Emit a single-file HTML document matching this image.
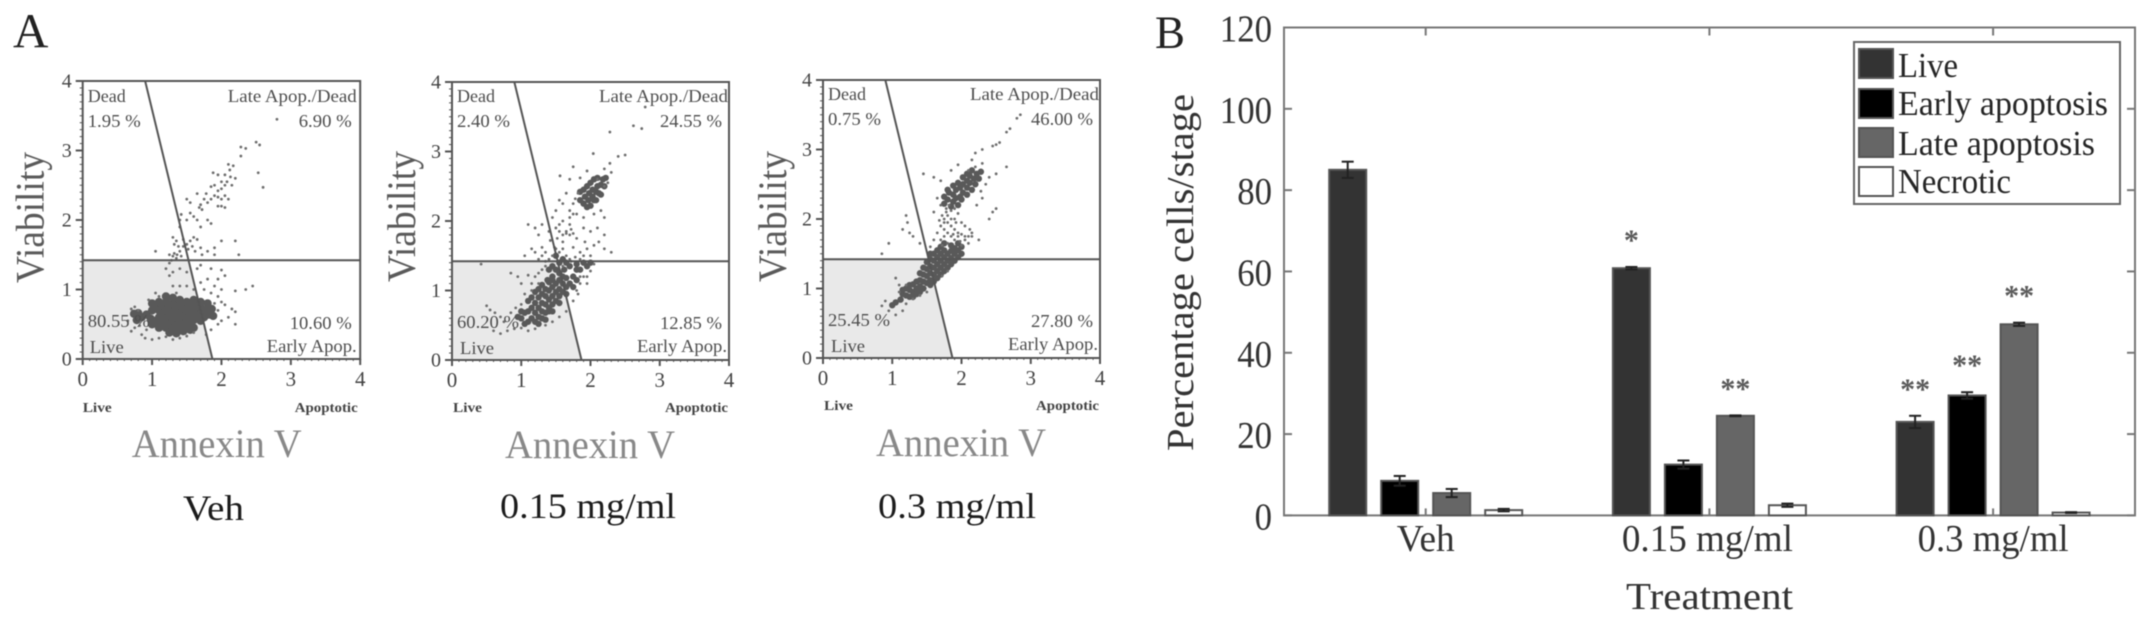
<!DOCTYPE html>
<html lang="en">
<head>
<meta charset="utf-8">
<title>Annexin V apoptosis analysis</title>
<style>
  html, body { margin: 0; padding: 0; background: #fff; }
  body { width: 2150px; height: 626px; overflow: hidden; }
  #figure { display: block; filter: blur(0.6px); }
  text { font-family: "Liberation Serif", serif; }
  .q { font-size: 18px; fill: #4d4d4d; }
  .via { font-size: 40px; fill: #5a5a5a; }
  .ann { font-size: 40px; fill: #888; }
  .sm { font-size: 14px; font-weight: bold; fill: #444; }
  .cond { font-size: 36px; fill: #1c1c1c; }
  .big { font-size: 38px; fill: #333; }
  .leg { font-size: 35px; fill: #262626; }
</style>
</head>
<body>
<svg id="figure" xmlns="http://www.w3.org/2000/svg" width="2150" height="626" viewBox="0 0 2150 626">
  <rect width="2150" height="626" fill="#fff"/>
  <text x="13" y="47" font-size="49" fill="#222">A</text>
  <text x="1155" y="48" font-size="47" fill="#222" textLength="30" lengthAdjust="spacingAndGlyphs">B</text>

  <g id="flow-veh" transform="translate(82.7,81)">
    <g class="marks"></g>
    <text class="q" x="5" y="21" textLength="38" lengthAdjust="spacingAndGlyphs">Dead</text>
    <text class="q" x="5" y="46" textLength="53" lengthAdjust="spacingAndGlyphs">1.95 %</text>
    <text class="q" x="274" y="21" text-anchor="end" textLength="129" lengthAdjust="spacingAndGlyphs">Late Apop./Dead</text>
    <text class="q" x="269" y="46" text-anchor="end" textLength="53" lengthAdjust="spacingAndGlyphs">6.90 %</text>
    <text class="q" x="5" y="246" textLength="62" lengthAdjust="spacingAndGlyphs">80.55 %</text>
    <text class="q" x="7" y="272" textLength="34" lengthAdjust="spacingAndGlyphs">Live</text>
    <text class="q" x="269" y="248" text-anchor="end" textLength="62" lengthAdjust="spacingAndGlyphs">10.60 %</text>
    <text class="q" x="274" y="271" text-anchor="end" textLength="90" lengthAdjust="spacingAndGlyphs">Early Apop.</text>
    <text class="sm" x="0" y="331" textLength="29" lengthAdjust="spacingAndGlyphs">Live</text>
    <text class="sm" x="275" y="331" text-anchor="end" textLength="63" lengthAdjust="spacingAndGlyphs">Apoptotic</text>
    <text class="via" transform="translate(-39,202) rotate(-90)" textLength="131" lengthAdjust="spacingAndGlyphs">Viability</text>
    <text class="ann" x="49" y="376" textLength="170" lengthAdjust="spacingAndGlyphs">Annexin V</text>
  </g>

  <g id="flow-mid" transform="translate(452,82)">
    <g class="marks"></g>
    <text class="q" x="5" y="20" textLength="38" lengthAdjust="spacingAndGlyphs">Dead</text>
    <text class="q" x="5" y="45" textLength="53" lengthAdjust="spacingAndGlyphs">2.40 %</text>
    <text class="q" x="276" y="20" text-anchor="end" textLength="129" lengthAdjust="spacingAndGlyphs">Late Apop./Dead</text>
    <text class="q" x="270" y="45" text-anchor="end" textLength="62" lengthAdjust="spacingAndGlyphs">24.55 %</text>
    <text class="q" x="5" y="246" textLength="62" lengthAdjust="spacingAndGlyphs">60.20 %</text>
    <text class="q" x="8" y="272" textLength="34" lengthAdjust="spacingAndGlyphs">Live</text>
    <text class="q" x="270" y="247" text-anchor="end" textLength="62" lengthAdjust="spacingAndGlyphs">12.85 %</text>
    <text class="q" x="275" y="270" text-anchor="end" textLength="90" lengthAdjust="spacingAndGlyphs">Early Apop.</text>
    <text class="sm" x="1" y="330" textLength="29" lengthAdjust="spacingAndGlyphs">Live</text>
    <text class="sm" x="276" y="330" text-anchor="end" textLength="63" lengthAdjust="spacingAndGlyphs">Apoptotic</text>
    <text class="via" transform="translate(-37,200) rotate(-90)" textLength="131" lengthAdjust="spacingAndGlyphs">Viability</text>
    <text class="ann" x="53" y="376" textLength="170" lengthAdjust="spacingAndGlyphs">Annexin V</text>
  </g>

  <g id="flow-high" transform="translate(823,80)">
    <g class="marks"></g>
    <text class="q" x="5" y="20" textLength="38" lengthAdjust="spacingAndGlyphs">Dead</text>
    <text class="q" x="5" y="45" textLength="53" lengthAdjust="spacingAndGlyphs">0.75 %</text>
    <text class="q" x="276" y="20" text-anchor="end" textLength="129" lengthAdjust="spacingAndGlyphs">Late Apop./Dead</text>
    <text class="q" x="270" y="45" text-anchor="end" textLength="62" lengthAdjust="spacingAndGlyphs">46.00 %</text>
    <text class="q" x="5" y="246" textLength="62" lengthAdjust="spacingAndGlyphs">25.45 %</text>
    <text class="q" x="8" y="272" textLength="34" lengthAdjust="spacingAndGlyphs">Live</text>
    <text class="q" x="270" y="247" text-anchor="end" textLength="62" lengthAdjust="spacingAndGlyphs">27.80 %</text>
    <text class="q" x="275" y="270" text-anchor="end" textLength="90" lengthAdjust="spacingAndGlyphs">Early Apop.</text>
    <text class="sm" x="1" y="330" textLength="29" lengthAdjust="spacingAndGlyphs">Live</text>
    <text class="sm" x="276" y="330" text-anchor="end" textLength="63" lengthAdjust="spacingAndGlyphs">Apoptotic</text>
    <text class="via" transform="translate(-37,202) rotate(-90)" textLength="131" lengthAdjust="spacingAndGlyphs">Viability</text>
    <text class="ann" x="53" y="376" textLength="170" lengthAdjust="spacingAndGlyphs">Annexin V</text>
  </g>

  <text class="cond" x="183" y="520" textLength="61" lengthAdjust="spacingAndGlyphs">Veh</text>
  <text class="cond" x="500" y="518" textLength="176" lengthAdjust="spacingAndGlyphs">0.15 mg/ml</text>
  <text class="cond" x="878" y="518" textLength="158" lengthAdjust="spacingAndGlyphs">0.3 mg/ml</text>

  <g id="bar-chart"></g>
  <text class="big" font-size="40" transform="translate(1193,451) rotate(-90)" textLength="357" lengthAdjust="spacingAndGlyphs">Percentage cells/stage</text>
  <text class="big" x="1626" y="609" textLength="167" lengthAdjust="spacingAndGlyphs">Treatment</text>

  <g>
    <rect x="1854" y="42" width="266" height="162" fill="#fff" stroke="#666" stroke-width="2"/>
    <rect x="1859" y="49" width="34" height="29" fill="#333" stroke="#555" stroke-width="2"/>
    <text class="leg" x="1898" y="77" textLength="60" lengthAdjust="spacingAndGlyphs">Live</text>
    <rect x="1859" y="89" width="34" height="29" fill="#000" stroke="#555" stroke-width="2"/>
    <text class="leg" x="1898" y="115" textLength="210" lengthAdjust="spacingAndGlyphs">Early apoptosis</text>
    <rect x="1859" y="128" width="34" height="29" fill="#666" stroke="#555" stroke-width="2"/>
    <text class="leg" x="1898" y="155" textLength="197" lengthAdjust="spacingAndGlyphs">Late apoptosis</text>
    <rect x="1859" y="167" width="34" height="29" fill="#fff" stroke="#555" stroke-width="2"/>
    <text class="leg" x="1898" y="193" textLength="113" lengthAdjust="spacingAndGlyphs">Necrotic</text>
  </g>
</svg>

<script>
/* ---------- flow cytometry data: [Annexin V, Viability] in log units ---------- */
const flowTicks = [0, 1, 2, 3, 4];
const gateViability = 1.42;
const gateAnnexinTop = 0.9;
const gateAnnexinBottom = 1.87;

const vehSparse = [[2.8,3.45],[2.5,3.12],[2.55,3.08],[2.28,3.05],[2.35,3.03],[2.28,2.92],[2.1,2.8],[2.17,2.78],[2.12,2.72],[2.53,2.68],[2.6,2.47],[1.88,2.68],[1.95,2.65],[2.05,2.65],[2.13,2.62],[2.2,2.6],[2.0,2.55],[2.08,2.55],[2.15,2.5],[1.85,2.48],[1.9,2.5],[1.95,2.42],[2.0,2.45],[2.05,2.5],[1.78,2.38],[1.65,2.38],[1.9,2.35],[1.95,2.33],[2.0,2.3],[2.05,2.35],[2.1,2.3],[1.85,2.3],[1.75,2.3],[1.7,2.22],[1.68,2.18],[1.72,2.15],[1.8,2.25],[1.95,2.2],[2.0,2.2],[2.05,2.18],[1.5,2.3],[1.55,2.25],[1.42,2.08],[1.55,2.1],[1.6,2.05],[1.65,2.0],[1.5,2.0],[1.4,2.0],[1.4,1.9],[1.8,2.0],[1.85,1.95],[1.7,1.9],[1.3,1.75],[1.32,1.65],[1.35,1.7],[1.38,1.62],[1.45,1.72],[1.5,1.65],[1.52,1.58],[1.55,1.7],[1.6,1.75],[1.65,1.72],[1.7,1.6],[1.8,1.55],[1.9,1.6],[1.9,1.5],[2.0,1.7],[2.2,1.7],[2.25,1.5],[1.25,1.5],[1.28,1.42],[1.3,1.48],[1.35,1.45],[1.25,1.38],[1.4,1.55],[1.05,1.55],[1.32,1.52],[1.36,1.5],[1.42,1.48],[1.45,1.62],[1.58,1.62],[1.62,1.55],[1.72,1.5],[1.2,1.3],[1.25,1.2],[1.3,1.25],[1.4,1.3],[1.5,1.25],[1.65,1.3],[1.7,1.35],[1.85,1.3],[2.0,1.28],[1.95,1.15],[2.05,1.2],[1.8,1.15],[1.7,1.1],[1.9,1.05],[2.0,1.0],[2.2,0.98],[2.35,1.0],[2.45,1.05],[1.3,1.05],[1.4,1.05],[1.5,1.05],[1.6,1.0],[1.75,1.0],[1.85,0.95],[1.95,0.9],[1.35,0.95],[1.1,0.9],[0.95,0.85],[1.05,0.95],[1.9,0.8],[2.05,0.78],[2.15,0.72],[2.2,0.68],[2.1,0.6],[2.0,0.55],[1.95,0.5],[2.2,0.5],[0.75,0.75],[0.7,0.72],[0.65,0.55],[0.7,0.4],[0.75,0.45],[0.85,0.35],[0.9,0.3],[1.0,0.28],[1.1,0.3],[1.2,0.32],[1.3,0.28],[1.4,0.3],[1.5,0.33],[1.6,0.38],[0.8,0.7],[0.82,0.48],[0.92,0.42],[1.85,0.42],[1.78,0.35],[1.95,0.7],[2.0,0.82]];
const vehDense = [[0.92,0.64],[0.98,0.58],[1.0,0.7],[1.05,0.55],[1.05,0.75],[1.1,0.6],[1.1,0.7],[1.15,0.5],[1.15,0.65],[1.15,0.78],[1.2,0.45],[1.2,0.58],[1.2,0.7],[1.2,0.82],[1.25,0.5],[1.25,0.62],[1.25,0.74],[1.3,0.42],[1.3,0.55],[1.3,0.67],[1.3,0.8],[1.35,0.48],[1.35,0.6],[1.35,0.72],[1.4,0.44],[1.4,0.55],[1.4,0.65],[1.4,0.78],[1.45,0.5],[1.45,0.62],[1.45,0.72],[1.5,0.48],[1.5,0.58],[1.5,0.7],[1.55,0.52],[1.55,0.64],[1.55,0.74],[1.6,0.56],[1.6,0.66],[1.6,0.78],[1.65,0.6],[1.65,0.7],[1.7,0.65],[1.7,0.74],[1.76,0.7],[0.85,0.6],[0.8,0.66],[1.0,0.5],[1.1,0.45],[1.1,0.82],[1.25,0.38],[1.35,0.37],[1.45,0.4],[1.55,0.42],[1.6,0.45],[1.7,0.55],[1.75,0.6],[1.82,0.64],[1.4,0.85],[1.3,0.88],[1.5,0.82],[1.6,0.85],[1.2,0.9],[1.7,0.82],[1.0,0.8],[0.74,0.65],[0.78,0.56],[1.86,0.72],[1.88,0.62],[1.8,0.8]];

const midSparse = [[2.28,3.28],[2.62,3.37],[2.74,3.33],[2.79,3.64],[2.5,2.95],[2.4,2.93],[2.04,2.97],[2.28,2.83],[1.75,2.78],[1.56,2.65],[1.7,2.6],[2.2,2.75],[2.3,2.7],[1.95,2.72],[1.85,2.62],[2.25,2.55],[1.65,2.4],[1.55,2.3],[1.6,2.25],[1.75,2.25],[1.7,2.15],[1.8,2.1],[1.9,2.05],[2.05,2.1],[2.15,2.15],[2.2,2.05],[1.5,2.15],[1.45,2.05],[1.6,2.0],[1.7,1.95],[1.9,1.9],[2.0,1.85],[2.1,1.9],[2.2,1.8],[1.1,1.95],[1.2,1.9],[1.25,1.8],[1.3,1.95],[1.4,1.85],[1.55,1.85],[1.65,1.82],[1.72,1.88],[1.8,1.75],[1.92,1.7],[2.05,1.65],[2.12,1.7],[2.2,1.6],[2.3,1.55],[1.15,1.6],[1.2,1.55],[1.05,1.5],[1.3,1.62],[1.35,1.55],[1.42,1.72],[1.6,1.6],[1.75,1.62],[1.85,1.55],[1.95,1.6],[2.0,1.5],[0.42,1.38],[0.85,1.25],[0.95,1.2],[1.0,1.1],[1.1,1.22],[1.15,1.1],[1.25,1.25],[1.35,1.35],[1.95,1.2],[2.0,1.28],[2.05,1.38],[1.85,1.1],[1.8,1.0],[0.5,0.78],[0.55,0.72],[0.62,0.68],[0.7,0.62],[0.75,0.55],[0.6,0.42],[0.7,0.38],[0.8,0.42],[0.9,0.45],[1.0,0.46],[1.1,0.42],[1.2,0.45],[0.85,0.68],[0.92,0.75],[1.0,0.8],[1.35,0.5],[1.45,0.55],[1.55,0.62],[1.65,0.7],[1.75,0.85],[1.82,0.95],[2.1,2.6],[2.2,2.5],[1.82,2.4],[1.78,2.32],[1.6,1.7],[1.65,1.5],[1.72,1.42],[1.78,1.48],[1.25,1.45],[1.3,1.5],[1.48,1.62],[1.52,1.75],[1.5,1.6],[1.55,1.55],[1.45,1.5],[1.4,1.45],[1.35,1.42],[1.6,1.8],[1.65,1.85],[1.7,1.8],[1.75,1.82],[1.5,1.9],[1.55,1.95],[1.7,2.05],[1.75,2.1],[1.6,1.35],[1.7,1.45],[1.85,1.45],[1.9,1.5],[1.3,1.3],[1.2,1.2],[1.25,1.1],[1.15,1.0],[1.05,0.95],[1.95,1.1],[1.9,1.2],[1.85,1.2]];
const midDense = [[1.0,0.6],[1.05,0.68],[1.1,0.7],[1.15,0.6],[1.15,0.75],[1.2,0.68],[1.2,0.82],[1.25,0.62],[1.25,0.75],[1.25,0.9],[1.3,0.7],[1.3,0.82],[1.3,0.95],[1.35,0.68],[1.35,0.8],[1.35,0.92],[1.4,0.75],[1.4,0.87],[1.4,1.0],[1.45,0.8],[1.45,0.92],[1.45,1.05],[1.5,0.85],[1.5,0.98],[1.5,1.1],[1.55,0.92],[1.55,1.02],[1.6,0.98],[1.6,1.1],[1.65,1.05],[1.4,0.7],[1.3,0.6],[1.2,0.55],[1.45,1.2],[1.5,1.3],[1.55,1.4],[1.5,1.5],[1.55,1.25],[1.75,1.2],[1.85,1.3],[1.95,1.35],[1.7,1.35],[1.38,1.15],[1.62,1.3],[1.8,1.38],[1.85,2.3],[1.9,2.25],[1.92,2.35],[1.97,2.3],[1.98,2.4],[2.03,2.35],[2.03,2.45],[2.08,2.42],[2.1,2.5],[2.15,2.52],[2.18,2.6],[2.22,2.62],[1.95,2.2],[2.05,2.3],[2.12,2.4],[1.85,2.42],[1.9,2.45],[1.95,2.5],[2.0,2.55],[2.05,2.6],[2.1,2.62],[2.0,2.22],[2.08,2.3],[2.15,2.38],[2.2,2.5],[1.1,0.85],[1.15,0.9],[1.2,0.98],[1.25,1.02],[1.3,1.08],[1.35,1.02],[1.4,1.12],[1.45,1.15],[1.55,1.15],[1.6,1.2],[1.65,1.18],[1.7,1.1],[1.65,0.95],[1.55,0.82],[1.45,0.7],[1.35,0.58],[1.25,0.52],[1.1,0.55],[1.05,0.52],[1.0,0.7],[0.95,0.62],[1.4,1.3],[1.45,1.35],[1.6,1.45],[1.65,1.4],[1.8,1.3],[1.9,1.4],[2.0,1.4],[1.75,1.05],[1.8,1.15]];

const highSparse = [[2.85,3.5],[2.8,3.45],[2.7,3.3],[2.65,3.25],[2.55,3.1],[2.5,3.07],[2.45,3.05],[2.3,3.0],[2.2,2.95],[2.15,2.85],[2.3,2.8],[2.65,2.75],[2.5,2.65],[2.4,2.6],[2.35,2.5],[2.2,2.75],[2.1,2.7],[1.45,2.65],[1.6,2.6],[1.7,2.55],[1.65,2.3],[1.7,2.2],[1.78,2.1],[1.75,2.0],[1.8,1.95],[1.7,1.9],[1.65,1.8],[1.6,1.7],[1.85,2.0],[1.92,1.95],[2.0,1.95],[2.05,1.9],[2.12,1.85],[2.15,1.75],[2.05,1.75],[1.95,1.8],[1.85,1.75],[1.75,1.75],[1.9,1.7],[2.25,1.7],[2.4,2.0],[2.45,2.1],[2.5,2.15],[1.2,2.05],[1.22,1.95],[1.15,1.85],[1.25,1.8],[1.3,1.75],[0.95,1.65],[0.85,1.5],[1.4,1.65],[1.55,1.6],[1.05,1.15],[1.1,0.95],[0.9,0.82],[0.85,0.75],[0.95,0.68],[1.05,0.62],[1.15,0.68],[1.2,0.78],[1.3,0.85],[1.4,0.9],[1.5,0.95],[1.2,1.05],[1.72,1.18],[1.8,1.25],[1.1,1.05],[1.9,2.15],[1.95,2.08],[1.72,1.62],[1.8,1.65],[2.1,1.65],[2.0,1.62],[1.6,2.1],[1.85,2.7],[1.95,2.78],[2.3,2.3],[2.28,2.4],[2.22,2.2],[1.7,1.7],[1.75,1.85],[1.8,1.8],[1.85,1.9],[1.9,1.85],[1.95,1.75],[2.0,1.78],[2.05,1.7],[2.1,1.75],[2.15,1.8],[1.75,1.95],[1.8,2.05],[1.85,2.12],[1.78,2.15],[1.82,2.2],[1.72,2.05],[1.68,1.98],[1.9,2.0],[1.88,1.78],[1.98,1.68]];
const highDense = [[1.0,0.76],[1.05,0.8],[1.12,0.84],[1.15,0.92],[1.2,0.9],[1.25,0.98],[1.25,1.05],[1.3,0.95],[1.3,1.06],[1.35,1.0],[1.35,1.1],[1.4,1.03],[1.4,1.12],[1.45,1.1],[1.45,1.2],[1.5,1.08],[1.5,1.18],[1.5,1.28],[1.55,1.12],[1.55,1.22],[1.55,1.32],[1.6,1.2],[1.6,1.3],[1.6,1.4],[1.65,1.25],[1.65,1.35],[1.65,1.45],[1.7,1.3],[1.7,1.4],[1.7,1.5],[1.75,1.35],[1.75,1.45],[1.75,1.55],[1.8,1.4],[1.8,1.5],[1.85,1.44],[1.85,1.54],[1.9,1.5],[1.9,1.58],[1.95,1.55],[2.0,1.6],[1.75,2.22],[1.8,2.28],[1.82,2.38],[1.88,2.25],[1.88,2.35],[1.92,2.3],[1.92,2.42],[1.98,2.32],[1.98,2.45],[2.02,2.38],[2.02,2.5],[2.08,2.45],[2.08,2.55],[2.12,2.52],[2.12,2.62],[2.18,2.58],[2.22,2.65],[2.28,2.68],[1.15,0.98],[1.2,1.0],[1.25,0.88],[1.3,0.88],[1.35,0.92],[1.4,0.95],[1.45,1.0],[1.55,1.05],[1.6,1.1],[1.65,1.15],[1.7,1.2],[1.75,1.25],[1.8,1.3],[1.85,1.35],[1.9,1.4],[1.95,1.45],[2.0,1.5],[1.4,1.22],[1.45,1.3],[1.5,1.38],[1.55,1.42],[1.6,1.5],[1.65,1.55],[1.7,1.6],[1.75,1.65],[1.85,1.62],[1.95,1.65],[1.55,1.5],[1.75,2.32],[1.8,2.42],[1.88,2.48],[1.95,2.52],[2.02,2.6],[2.08,2.65],[2.15,2.7],[1.85,2.18],[1.95,2.2],[2.0,2.28],[2.08,2.35],[2.15,2.42],[2.2,2.5],[2.25,2.58]];

/* ---------- bar chart data ---------- */
const barCategories = ['Veh', '0.15 mg/ml', '0.3 mg/ml'];
const barTicks = [0, 20, 40, 60, 80, 100, 120];
const liveValues = [85, 60.8, 23];
const earlyValues = [8.5, 12.5, 29.5];
const lateValues = [5.5, 24.5, 47];
const necroticValues = [1.3, 2.5, 0.7];
const liveErrors = [2, 0.3, 1.5];
const earlyErrors = [1.2, 1, 0.8];
const lateErrors = [1, 0.1, 0.4];
const necroticErrors = [0.3, 0.4, 0.1];
const liveSignificance = ['', '*', '**'];
const earlySignificance = ['', '', '**'];
const lateSignificance = ['', '**', '**'];
const necroticSignificance = ['', '', ''];

const NS = 'http://www.w3.org/2000/svg';
function mk(tag, attrs, parent, txt) {
  const el = document.createElementNS(NS, tag);
  for (const k in attrs) el.setAttribute(k, attrs[k]);
  if (txt !== undefined) el.textContent = txt;
  parent.appendChild(el);
  return el;
}

/* ---------- flow plots ---------- */
function drawFlow(id, sparse, dense, W, H) {
  const root = document.querySelector('#' + id + ' .marks');
  const fx = v => v / 4 * W;
  const fy = v => H - v / 4 * H;
  const gateAt = v => gateAnnexinBottom + (gateAnnexinTop - gateAnnexinBottom) * v / 4;

  const region = mk('polygon', {
    points: [[0, 0], [0, gateViability], [gateAt(gateViability), gateViability], [gateAnnexinBottom, 0]]
      .map(p => fx(p[0]) + ',' + fy(p[1])).join(' '),
    fill: '#e9e9e9'
  }, root);
  
  

  dense.forEach(p => {
    const c = mk('circle', { cx: fx(p[0]), cy: fy(p[1]), r: id === 'flow-veh' ? 4.2 : 3.2, fill: '#595959' }, root);
    
    
  });
  sparse.forEach(p => {
    const c = mk('circle', { cx: fx(p[0]), cy: fy(p[1]), r: 1.4, fill: '#6e6e6e' }, root);
    
    
  });

  const frame = mk('rect', { x: 0, y: 0, width: W, height: H, fill: 'none', stroke: '#555', 'stroke-width': 2 }, root);
  
  

  const hGate = mk('line', { x1: 0, x2: W, y1: fy(gateViability), y2: fy(gateViability), stroke: '#555', 'stroke-width': 2 }, root);
  
  

  const dGate = mk('line', { x1: fx(gateAnnexinTop), y1: fy(4), x2: fx(gateAnnexinBottom), y2: fy(0), stroke: '#555', 'stroke-width': 2 }, root);
  
  

  for (let m = 0; m <= 40; m++) {
    const v = m / 10;
    const len = m % 10 === 0 ? 7 : 3;
    const ty = mk('line', { x1: -len, x2: 0, y1: fy(v), y2: fy(v), stroke: '#555', 'stroke-width': m % 10 === 0 ? 2 : 1 }, root);
    
    
    const tx = mk('line', { x1: fx(v), x2: fx(v), y1: H, y2: H + len - 1, stroke: '#555', 'stroke-width': m % 10 === 0 ? 2 : 1 }, root);
    
    
  }

  flowTicks.forEach(t => {
    const ly = mk('text', { x: -11, y: fy(t) + 6.5, 'text-anchor': 'end', 'font-size': 20, fill: '#444' }, root, String(t));
    
    
    const lx = mk('text', { x: fx(t), y: H + 27, 'text-anchor': 'middle', 'font-size': 21, fill: '#444' }, root, String(t));
    
    
  });
}
drawFlow('flow-veh', vehSparse, vehDense, 277.5, 278);
drawFlow('flow-mid', midSparse, midDense, 277, 278);
drawFlow('flow-high', highSparse, highDense, 277, 278);

/* ---------- bar chart ---------- */
(function () {
  const chart = document.getElementById('bar-chart');
  const L = 1284, R = 2135, T = 27.5, B = 515.4;
  const yScale = v => B - v / 120 * (B - T);
  const groupX = i => 1425.7 + i * 283.7;
  const barW = 37;
  const seriesOffset = [-78, -26, 26, 78];
  const seriesFill = ['#333', '#000', '#666', '#fff'];
  const seriesName = ['live', 'early', 'late', 'necrotic'];
  const seriesValues = [liveValues, earlyValues, lateValues, necroticValues];
  const seriesErrors = [liveErrors, earlyErrors, lateErrors, necroticErrors];
  const seriesStars = [liveSignificance, earlySignificance, lateSignificance, necroticSignificance];

  const frame = mk('rect', { x: L, y: T, width: R - L, height: B - T, fill: 'none', stroke: '#777', 'stroke-width': 2 }, chart);
  
  

  barTicks.forEach(t => {
    const y = yScale(t);
    const a = mk('line', { x1: L, x2: L + 8, y1: y, y2: y, stroke: '#777', 'stroke-width': 2 }, chart);
    
    
    const b = mk('line', { x1: R - 8, x2: R, y1: y, y2: y, stroke: '#777', 'stroke-width': 2 }, chart);
    
    
    const l = mk('text', { x: 1272, y: y + 14, 'text-anchor': 'end', class: 'big', textLength: String(t).length * 17.4, lengthAdjust: 'spacingAndGlyphs' }, chart, String(t));
    
    
  });

  barCategories.forEach((c, i) => {
    const x = groupX(i);
    const t1 = mk('line', { x1: x, x2: x, y1: T, y2: T + 8, stroke: '#777', 'stroke-width': 2 }, chart);
    
    
    const t2 = mk('line', { x1: x, x2: x, y1: B - 7, y2: B, stroke: '#777', 'stroke-width': 2 }, chart);
    
    
    const lab = mk('text', { x: x - (i === 1 ? 2 : 0), y: 551, 'text-anchor': 'middle', class: 'big', textLength: [58, 171, 151][i], lengthAdjust: 'spacingAndGlyphs' }, chart, c);
    
    

    seriesValues.forEach((vals, s) => {
      const v = vals[i], e = seriesErrors[s][i];
      const cx = x + seriesOffset[s];
      const rect = mk('rect', { x: cx - barW / 2, y: yScale(v), width: barW, height: B - yScale(v), fill: seriesFill[s], stroke: '#555', 'stroke-width': 2 }, chart);
      
      
      const stem = mk('line', { x1: cx, x2: cx, y1: yScale(v - e), y2: yScale(v + e), stroke: '#222', 'stroke-width': 2 }, chart);
      
      
      [v - e, v + e].forEach(ev => {
        const cap = mk('line', { x1: cx - 6, x2: cx + 6, y1: yScale(ev), y2: yScale(ev), stroke: '#222', 'stroke-width': 2 }, chart);
        
        
      });
      const star = seriesStars[s][i];
      if (star) {
        const st = mk('text', { x: cx, y: yScale(v + e) - 17, 'text-anchor': 'middle', 'font-size': 30, 'font-weight': 'bold', fill: '#5a5a5a' }, chart, star);
        
        
      }
    });
  });
})();
</script>
</body>
</html>
